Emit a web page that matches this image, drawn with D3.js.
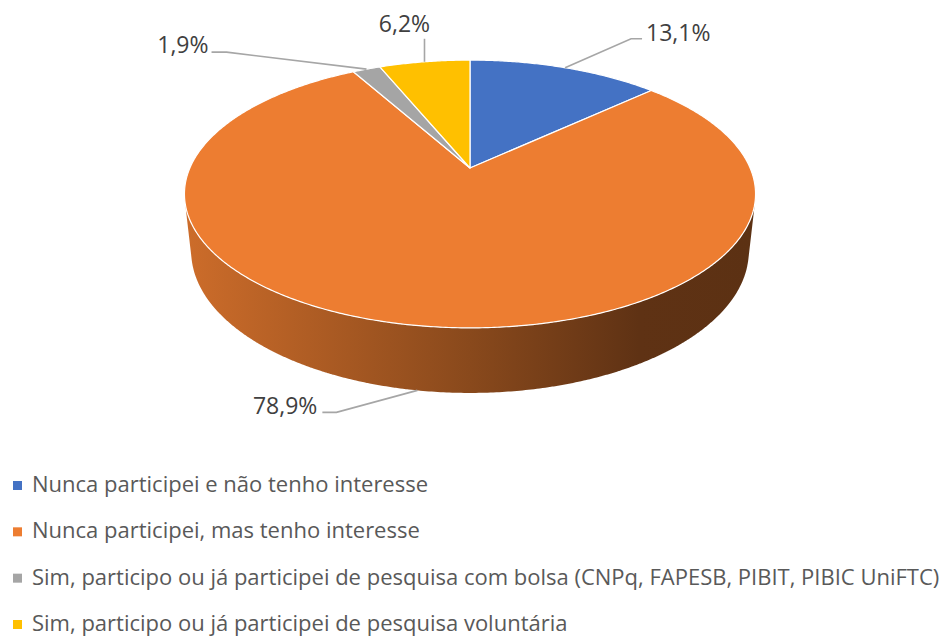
<!DOCTYPE html>
<html>
<head>
<meta charset="utf-8">
<script src="https://cdn.jsdelivr.net/npm/d3@7"></script>
<style>
  html, body { margin: 0; padding: 0; background: #fff; }
  svg { display: block; }
</style>
</head>
<body>
<svg id="chart" width="943" height="637"></svg>
<script>
// ---- data ----
const categories = [
  "Nunca participei e não tenho interesse",
  "Nunca participei, mas tenho interesse",
  "Sim, participo ou já participei de pesquisa com bolsa (CNPq, FAPESB, PIBIT, PIBIC UniFTC)",
  "Sim, participo ou já participei de pesquisa voluntária"
];
const values = [13.1, 78.9, 1.9, 6.2];
const valueLabels = ["13,1%", "78,9%", "1,9%", "6,2%"];
const colors = ["#4472C4", "#ED7D31", "#A5A5A5", "#FFC000"];

// ---- layout ----
const svg = d3.select("#chart");
const cx = 470, cy = 168;        // projected pie centre
const focal = 1283, dist = 4.58; // perspective camera
const tilt = Math.asin(0.46);
const depth = 0.232;             // thickness (radius = 1)
const sT = Math.sin(tilt), cT = Math.cos(tilt);

function project(theta, r, z) {
  const x = r * Math.sin(theta), y = r * Math.cos(theta);
  const D = dist + y * cT - z * sT;
  return [cx + focal * x / D, cy - focal * (y * sT + z * cT) / D];
}

const pie = d3.pie().sort(null).value(d => d)(values);
const step = Math.PI / 360;

function arcPoints(a0, a1, z) {
  const pts = [];
  const n = Math.max(2, Math.ceil((a1 - a0) / step));
  for (let i = 0; i <= n; i++) pts.push(project(a0 + (a1 - a0) * i / n, 1, z));
  return pts;
}

// gradients for walls
const defs = svg.append("defs");
const leftX = project(-Math.PI / 2, 1, 0)[0] - 2;
const rightX = project(Math.PI / 2, 1, 0)[0] + 2;
colors.forEach((c, i) => {
  const base = d3.rgb(c);
  const g = defs.append("linearGradient")
    .attr("id", "wall" + i)
    .attr("gradientUnits", "userSpaceOnUse")
    .attr("x1", leftX).attr("x2", rightX).attr("y1", 0).attr("y2", 0);
  [[0, 0.86], [0.5, 0.58], [0.8, 0.40], [1, 0.39]].forEach(([o, k]) => {
    g.append("stop").attr("offset", o)
      .attr("stop-color", d3.rgb(base.r * k, base.g * k, base.b * k).formatHex());
  });
});

const gPie = svg.append("g");

function quadArea(q) {
  let a = 0;
  for (let i = 0; i < q.length; i++) {
    const p = q[i], n = q[(i + 1) % q.length];
    a += p[0] * n[1] - n[0] * p[1];
  }
  return a;
}
function quadAt(t, dt) {
  return [project(t, 1, 0), project(t + dt, 1, 0), project(t + dt, 1, -depth), project(t, 1, -depth)];
}
const frontSign = Math.sign(quadArea(quadAt(Math.PI, step)));

// walls
pie.forEach((p, i) => {
  let d = "";
  const n = Math.max(1, Math.ceil((p.endAngle - p.startAngle) / step));
  const dt = (p.endAngle - p.startAngle) / n;
  for (let k = 0; k < n; k++) {
    const t = p.startAngle + k * dt;
    const q = quadAt(t, dt * 1.05);
    if (Math.sign(quadArea(q)) !== frontSign) continue;
    d += "M" + q.map(pt => pt[0].toFixed(2) + "," + pt[1].toFixed(2)).join("L") + "Z";
  }
  if (d) gPie.append("path").attr("d", d).attr("fill", `url(#wall${i})`);
});

// top faces
pie.forEach((p, i) => {
  const pts = [project(0, 0, 0)].concat(arcPoints(p.startAngle, p.endAngle, 0));
  gPie.append("path")
    .attr("d", "M" + pts.map(pt => pt[0].toFixed(2) + "," + pt[1].toFixed(2)).join("L") + "Z")
    .attr("fill", colors[i])
    .attr("stroke", "#ffffff")
    .attr("stroke-width", 1.2)
    .attr("stroke-linejoin", "round");
});

// ---- data labels with leader lines ----
const labelLayout = [
  { elbow: [66, -29], tail: [11, 0], anchor: "start", text: [15, 2] },   // 13,1%
  { elbow: [-81, 22], tail: [-14, 0], anchor: "end", text: [-19, 2] },   // 78,9%
  { elbow: [-140, -17], tail: [-15, 0], anchor: "end", text: [-18, 1] }, // 1,9%
  { elbow: [0, -23], tail: [0, 0], anchor: "middle", text: [-20, -7] }   // 6,2%
];
const gLab = svg.append("g");
pie.forEach((p, i) => {
  const mid = (p.startAngle + p.endAngle) / 2;
  const front = Math.cos(mid) < -0.5;
  const a = project(mid, 1, front ? -depth : 0);
  const L = labelLayout[i];
  const e = [a[0] + L.elbow[0], a[1] + L.elbow[1]];
  const t = [e[0] + L.tail[0], e[1] + L.tail[1]];
  gLab.append("path")
    .attr("d", `M${a[0]},${a[1]}L${e[0]},${e[1]}L${t[0]},${t[1]}`)
    .attr("fill", "none")
    .attr("stroke", "#A6A6A6")
    .attr("stroke-width", 1.6);
  gLab.append("text")
    .attr("x", e[0] + L.text[0])
    .attr("y", e[1] + L.text[1])
    .attr("text-anchor", L.anchor)
    .attr("font-family", "'Open Sans', 'Noto Sans', sans-serif")
    .attr("font-size", 23)
    .attr("fill", "#404040")
    .text(valueLabels[i]);
});

// ---- legend ----
const legend = svg.append("g");
const legY = d3.scalePoint().domain(d3.range(categories.length)).range([492, 631]);
categories.forEach((c, i) => {
  const y = legY(i);
  legend.append("rect")
    .attr("x", 13).attr("y", y - 11).attr("width", 9).attr("height", 9)
    .attr("fill", colors[i]);
  legend.append("text")
    .attr("x", 32).attr("y", y)
    .attr("font-family", "'Open Sans', 'Noto Sans', sans-serif")
    .attr("font-size", 22)
    .attr("fill", "#595959")
    .text(c);
});
</script>
</body>
</html>
